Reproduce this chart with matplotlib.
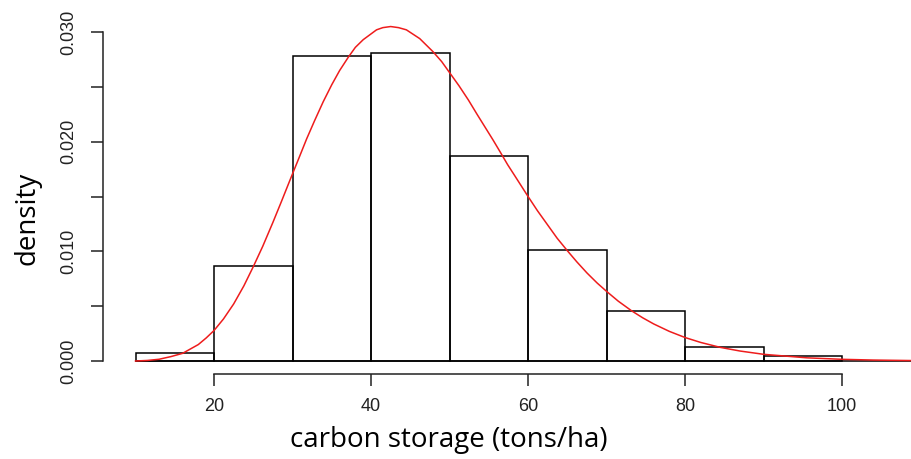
import matplotlib
matplotlib.use("Agg")
import matplotlib.pyplot as plt

# histogram of carbon storage (density scale), 10 t/ha bins
bin_left = [10, 20, 30, 40, 50, 60, 70, 80, 90]
bin_density = [0.00073, 0.00863, 0.0278, 0.0281, 0.01865, 0.01012, 0.00453, 0.00132, 0.00050]

# fitted density curve
curve_x = [10, 11.5, 13, 14.5, 16, 18, 19, 20, 21.2, 22.5, 23.8, 25, 26.2, 27.5,
           28.6, 29.7, 30.8, 31.8, 32.8, 33.9, 35, 36, 37.1, 38, 39, 40.7, 41.5,
           42.5, 43.5, 44.5, 46.2, 47.9, 49, 50, 51.2, 52.4, 53.5, 54.5, 55.5,
           56.5, 57.4, 58.3, 60, 61.2, 62.5, 63.7, 65, 66.2, 67.5, 68.8, 70,
           71.5, 73.2, 74.6, 76, 78, 80, 82, 84.5, 87, 90, 95.5, 100, 104, 109]
curve_y = [0.0, 0.00005, 0.00016, 0.0004, 0.0007, 0.0015, 0.0021, 0.00278, 0.00383,
           0.0052, 0.00685, 0.0086, 0.01045, 0.01264, 0.01457, 0.01654, 0.01848,
           0.02026, 0.0219, 0.02363, 0.0252, 0.02649, 0.0277, 0.0286, 0.0293, 0.0302,
           0.0304, 0.0305, 0.0304, 0.0302, 0.0294, 0.0282, 0.0273, 0.0263, 0.0251,
           0.0238, 0.0225, 0.02135, 0.0202, 0.0190, 0.0179, 0.0169, 0.0150, 0.0137,
           0.0124, 0.0112, 0.01006, 0.00905, 0.00803, 0.00711, 0.00635, 0.00545,
           0.00457, 0.00394, 0.00338, 0.0027, 0.00214, 0.00169, 0.00124, 0.00091,
           0.00061, 0.00029, 0.000154, 0.000086, 0.00004]

x_ticks = [20, 40, 60, 80, 100]
y_ticks = [0.0, 0.005, 0.01, 0.015, 0.02, 0.025, 0.03]
y_labels = ["0.000", "", "0.010", "", "0.020", "", "0.030"]

plt.rcParams["font.family"] = ["Liberation Sans", "DejaVu Sans"]

fig = plt.figure(figsize=(9.12, 4.59), dpi=100)
ax = fig.add_axes([103 / 912, 85 / 459, 809 / 912, 374 / 459])

ax.bar(bin_left, bin_density, width=10, align="edge", fill=False,
       edgecolor="black", linewidth=1.1)
ax.axhline(0, xmin=(10 - 5.86) / (108.9 - 5.86), color="black", linewidth=1.1)
ax.plot(curve_x, curve_y, color="#ee1c1c", linewidth=1.1)

ax.set_xlim(5.86, 108.9)
ax.set_ylim(-0.001185, 0.03292)

for s in ["top", "right"]:
    ax.spines[s].set_visible(False)
ax.spines["left"].set_bounds(0, 0.03)
ax.spines["bottom"].set_bounds(20, 100)
for s in ["left", "bottom"]:
    ax.spines[s].set_linewidth(1.1)
    ax.spines[s].set_color("#222222")

ax.set_xticks(x_ticks)
ax.set_xticklabels([str(v) for v in x_ticks])
ax.set_yticks(y_ticks)
ax.set_yticklabels(y_labels, rotation=90, va="center")
ax.tick_params(axis="both", direction="out", length=8.5, width=1.1,
               color="#222222", labelsize=13, labelcolor="#222222")
ax.tick_params(axis="x", pad=9)
ax.tick_params(axis="y", pad=10)

fig.text(449 / 912, 1 - 440 / 459, "carbon storage (tons/ha)", family="Open Sans",
         fontsize=20, ha="center", va="center")
fig.text(28 / 912, 1 - 218 / 459, "density", family="Open Sans", fontsize=20,
         rotation=90, ha="center", va="center")

fig.savefig("out.png", dpi=100)
